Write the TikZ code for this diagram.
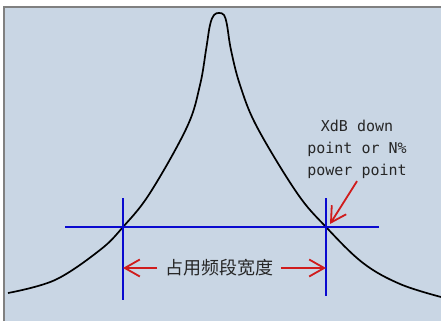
\documentclass[tikz,border=0pt]{standalone}
\usepackage{fontspec}
\setmonofont{DejaVu Sans Mono}
\newfontfamily\cjk{Noto Sans CJK SC}
\usetikzlibrary{arrows.meta}
\definecolor{panelbg}{HTML}{C9D6E4}
\definecolor{frame}{HTML}{808080}
\definecolor{markblue}{HTML}{0A0ACF}
\definecolor{arrred}{HTML}{D01C1C}
\definecolor{txtgray}{HTML}{262626}

\begin{document}
\begin{tikzpicture}[x=1pt, y=-1pt, >={Straight Barb[length=15pt, width=17pt]}, line width=1.8pt]

\useasboundingbox (0,0) rectangle (441,321);

% Background panel
\fill[panelbg] (4,7) rectangle (441,321);
\draw[frame, line width=1.2pt] (4,321) -- (4,7) -- (441,7);

% Spectrum curve
\draw[black, line width=1.7pt] plot[smooth, tension=0.6] coordinates {
  (8,293) (55,280) (100,250) (123,227) (150,193) (187,127)
  (200,85) (206,50) (210,25) (214,15) (219,13) (224,15)
  (227,25) (231,50) (240,85) (257,127) (297,193)
  (326,227) (363,263) (400,284) (441,297)};

% Marker points
\coordinate (lcross) at (123,227);
\coordinate (rcross) at (326,227);
\coordinate (hleft) at (65,227);
\coordinate (hright) at (379,227);
\coordinate (ltop) at (123,198);
\coordinate (lbot) at (123,300);
\coordinate (rtop) at (326,198);
\coordinate (rbot) at (326,296);
\coordinate (lmid) at (123,268);
\coordinate (rmid) at (326,268);
\coordinate (rtip) at (330,224);

% Blue level and edge lines
\draw[markblue] (hleft) -- (hright);
\draw[markblue] (ltop) -- (lbot);
\draw[markblue] (rtop) -- (rbot);

% Bandwidth label
\node[font=\cjk\fontsize{18}{20}\selectfont, text=txtgray, inner sep=7pt] (bw) at (219,268) {占用频段宽度};
\draw[->, arrred] (bw.west) -- (lmid);
\draw[->, arrred] (bw.east) -- (rmid);

% Down point note
\node[font=\ttfamily\fontsize{15}{22}\selectfont, text=txtgray, align=center, inner sep=2pt] (note) at (357,149) {XdB down\\point or N\%\\power point};
\draw[->, arrred] (note.south) -- (rtip);

\end{tikzpicture}
\end{document}
